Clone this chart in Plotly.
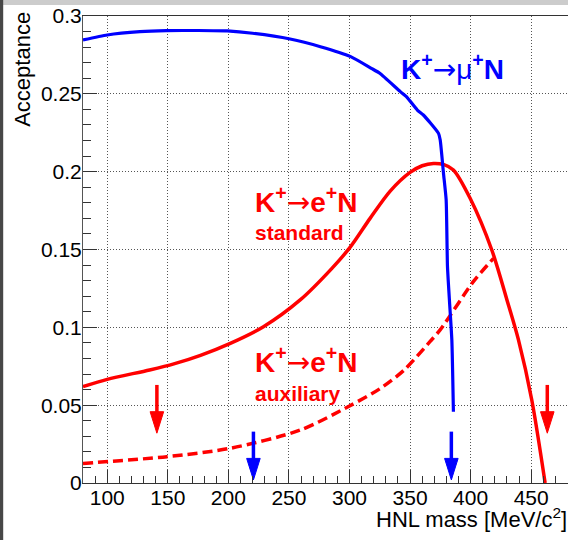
import plotly.graph_objects as go

# ---------------- data ----------------
mu_x = [80, 100, 127, 149, 175, 199, 220, 251, 276, 301, 318, 325, 342, 347, 356, 361,
        373.5, 374.9, 377.6, 379.8, 380.9, 382.5, 384.5, 385.8]
mu_y = [0.2846, 0.2878, 0.2899, 0.2906, 0.2907, 0.2904, 0.2889, 0.2852, 0.2803, 0.2739,
        0.2664, 0.2632, 0.2514, 0.2482, 0.2396, 0.2364, 0.2246, 0.2203, 0.199, 0.182,
        0.139, 0.1176, 0.0919, 0.0458]

e_std_x = [80, 100, 135, 155, 177, 201.6, 229, 259.3, 285.5, 300.6, 317, 333.6, 350, 360,
           369.3, 378, 385.8, 399.6, 417.5, 430, 439.5, 450.5, 461.5]
e_std_y = [0.0619, 0.0666, 0.0726, 0.0765, 0.082, 0.0897, 0.1004, 0.1176, 0.1379, 0.1515,
           0.170, 0.1875, 0.1995, 0.2038, 0.2053, 0.2045, 0.2011, 0.1829, 0.1497, 0.1176,
           0.0919, 0.0533, 0.0]

e_aux_x = [80, 149.3, 201.5, 259.3, 300, 325, 345, 366.6, 375, 402.4, 418.9]
e_aux_y = [0.0126, 0.0169, 0.0223, 0.034, 0.0495, 0.0605, 0.0725, 0.091, 0.0985, 0.1295, 0.1443]

# arrows: x position, top of shaft, tip
red_arrow_x = [141, 463.3]
red_arrow_top = [0.063, 0.063]
red_arrow_tip = [0.032, 0.032]
blue_arrow_x = [220.7, 384.1]
blue_arrow_top = [0.033, 0.033]
blue_arrow_tip = [0.002, 0.002]

x_ticks = [100, 150, 200, 250, 300, 350, 400, 450]
y_ticks = [0, 0.05, 0.1, 0.15, 0.2, 0.25, 0.3]

BLUE = "#0000ff"
RED = "#ff0000"
FONT = "Liberation Sans, Arial, Helvetica, sans-serif"

# ---------------- figure ----------------
fig = go.Figure()

fig.add_trace(go.Scatter(x=e_aux_x, y=e_aux_y, mode="lines",
                         line=dict(color=RED, width=3.5, dash="10px,5px",
                                   shape="spline", smoothing=0.8),
                         hoverinfo="skip", showlegend=False))
fig.add_trace(go.Scatter(x=e_std_x, y=e_std_y, mode="lines",
                         line=dict(color=RED, width=3.5, shape="spline", smoothing=0.8),
                         hoverinfo="skip", showlegend=False))
fig.add_trace(go.Scatter(x=mu_x, y=mu_y, mode="lines",
                         line=dict(color=BLUE, width=3.2, shape="spline", smoothing=0.5),
                         hoverinfo="skip", showlegend=False))

HEAD_LEN = 0.0138   # in y units (~21 px)
HEAD_HW = 5.6       # in x units (~7 px)


def add_arrows(xs, tops, tips, color):
    for xa, yt, yp in zip(xs, tops, tips):
        base = yp + HEAD_LEN
        fig.add_trace(go.Scatter(x=[xa, xa], y=[yt, base - 0.004], mode="lines",
                                 line=dict(color=color, width=3.5),
                                 hoverinfo="skip", showlegend=False))
        fig.add_trace(go.Scatter(x=[xa - HEAD_HW, xa + HEAD_HW, xa, xa - HEAD_HW],
                                 y=[base, base, yp, base], mode="lines",
                                 fill="toself", fillcolor=color,
                                 line=dict(color=color, width=1),
                                 hoverinfo="skip", showlegend=False))


add_arrows(red_arrow_x, red_arrow_top, red_arrow_tip, RED)
add_arrows(blue_arrow_x, blue_arrow_top, blue_arrow_tip, BLUE)

ARW = '<span style="font-family:DejaVu Sans;font-weight:normal">→</span>'
MU = '<span style="font-weight:normal">μ</span>'

labels = [
    ("K<sup>+</sup>" + ARW + MU + "<sup>+</sup>N", 340.8, 0.2672, 28, BLUE),
    ("K<sup>+</sup>" + ARW + "e<sup>+</sup>N", 220.0, 0.1818, 28, RED),
    ("standard", 220.0, 0.1610, 21, RED),
    ("K<sup>+</sup>" + ARW + "e<sup>+</sup>N", 220.0, 0.0787, 28, RED),
    ("auxiliary", 220.0, 0.0575, 21, RED),
]
for txt, xx, yy, sz, col in labels:
    fig.add_annotation(x=xx, y=yy, xref="x", yref="y", text=txt, showarrow=False,
                       xanchor="left", yanchor="middle",
                       font=dict(family=FONT, size=sz, color=col, weight="bold"))

# axis titles
fig.add_annotation(x=-0.125, y=1.013, xref="paper", yref="paper", text="Acceptance",
                   showarrow=False, textangle=-90, xanchor="center", yanchor="top",
                   font=dict(family=FONT, size=22, color="black"))
fig.add_annotation(x=1.0, y=-0.106, xref="paper", yref="paper",
                   text="HNL mass [MeV/c<sup>2</sup>]", showarrow=False,
                   xanchor="right", yanchor="bottom", borderpad=0,
                   font=dict(family=FONT, size=22, color="black"))

# window chrome
fig.add_shape(type="rect", xref="paper", yref="paper", x0=-0.2, x1=1.1,
              y0=(483 - 5) / 467, y1=1.1, fillcolor="#cccccc", line=dict(width=0),
              layer="above")
fig.add_shape(type="rect", xref="paper", yref="paper", x0=-0.3, x1=(3.2 - 83) / 485,
              y0=-0.2, y1=1.1, fillcolor="#474747", line=dict(width=0), layer="above")

fig.update_xaxes(range=[80, 480.4], tickvals=x_ticks, ticktext=[str(v) for v in x_ticks],
                 ticks="inside", ticklen=13, tickwidth=1, tickcolor="#333",
                 minor=dict(dtick=10, tick0=0, ticks="inside", ticklen=7, tickcolor="#333",
                            showgrid=False),
                 showgrid=True, gridcolor="#555", griddash="1px,2px", gridwidth=1,
                 showline=True, linecolor="#333", linewidth=1, mirror=True,
                 zeroline=False, automargin=False, ticklabelstandoff=-4,
                 tickfont=dict(family=FONT, size=21, color="black"))
fig.update_yaxes(range=[0, 0.3], tickvals=y_ticks,
                 ticktext=["0", "0.05", "0.1", "0.15", "0.2", "0.25", "0.3"],
                 ticks="inside", ticklen=14, tickwidth=1, tickcolor="#333",
                 minor=dict(dtick=0.01, tick0=0, ticks="inside", ticklen=8, tickcolor="#333",
                            showgrid=False),
                 showgrid=True, gridcolor="#555", griddash="1px,2px", gridwidth=1,
                 showline=True, linecolor="#555", linewidth=1,
                 zeroline=False, automargin=False, ticklabelstandoff=-4,
                 tickfont=dict(family=FONT, size=21, color="black"))

fig.update_layout(width=568, height=540,
                  margin=dict(l=83, r=0, t=16, b=57),
                  paper_bgcolor="white", plot_bgcolor="white",
                  showlegend=False)

fig.write_html("out.html",
               config={"displayModeBar": False, "staticPlot": True},
               post_script="document.body.style.margin='0px';"
                           "document.body.style.overflow='hidden';")
